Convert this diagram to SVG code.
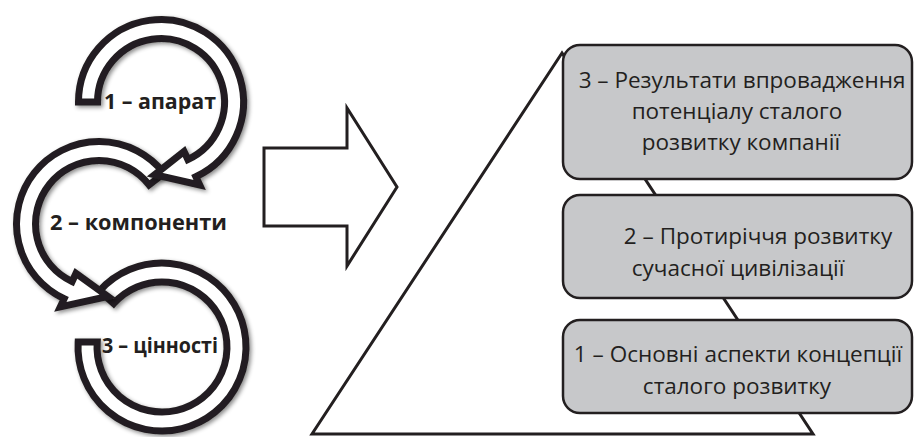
<svg xmlns="http://www.w3.org/2000/svg" width="914" height="437" viewBox="0 0 914 437">
<style>
.ring{fill:#ffffff;stroke:#231f20;stroke-width:7;stroke-linejoin:miter;filter:url(#sh)}
.rt{font-family:"Open Sans","Liberation Sans",sans-serif;font-weight:bold;font-size:22px;fill:#231f20}
.box{fill:#c7c8ca;stroke:#231f20;stroke-width:2.5}
.bt{font-family:"Open Sans","Liberation Sans",sans-serif;font-size:22.5px;fill:#231f20;text-anchor:middle}
.line{fill:none;stroke:#231f20;stroke-width:3;stroke-linejoin:miter}
</style>
<defs>
<filter id="sh" x="-20%" y="-20%" width="140%" height="140%">
<feDropShadow dx="2" dy="2" stdDeviation="2" flood-color="#000000" flood-opacity="0.45"/>
</filter>
</defs>
<rect width="914" height="437" fill="#ffffff"/>
<g id="triangle">
<polygon class="line" points="562,53 312,434 813,434"/>
</g>
<g id="ring3">
<path class="ring" d="M99.58,290.80 A84,84 0 1 1 78.15,342 L97.19,342 A65,65 0 1 0 113.70,303.51 Z"/>
<text class="rt" x="102" y="353" textLength="116" lengthAdjust="spacingAndGlyphs">3 – цінності</text>
</g>
<g id="ring2">
<path class="ring" d="M164.01,173.20 A82.5,82.5 0 1 0 64.14,298.77 L60.33,306.93 L107.90,296.46 L75.97,273.39 L72.16,281.55 A63.5,63.5 0 1 1 149.04,184.90 Z"/>
<text class="rt" x="50" y="230" textLength="177" lengthAdjust="spacingAndGlyphs">2 – компоненти</text>
</g>
<g id="ring1">
<path class="ring" d="M78.5,102 A82.5,82.5 0 1 1 195.86,176.77 L199.67,184.93 L154.63,174.72 L184.03,151.39 L187.84,159.55 A63.5,63.5 0 1 0 97.5,102 Z"/>
<text class="rt" x="104" y="109" textLength="112" lengthAdjust="spacingAndGlyphs">1 – апарат</text>
</g>
<g id="connectors">
<polygon class="line" points="264,148 347,148 347,108 397,187 347,266 347,226 264,226"/>
</g>
<g id="box3">
<rect class="box" x="563" y="45" width="349" height="134" rx="17"/>
<text class="bt" x="742" y="88">3 – Результати впровадження</text>
<text class="bt" x="737" y="119">потенціалу сталого</text>
<text class="bt" x="741" y="150">розвитку компанії</text>
</g>
<g id="box2">
<rect class="box" x="563" y="195" width="349" height="103" rx="17"/>
<text class="bt" x="758" y="244">2 – Протиріччя розвитку</text>
<text class="bt" x="738" y="276">сучасної цивілізації</text>
</g>
<g id="box1">
<rect class="box" x="563" y="320" width="349" height="93" rx="17"/>
<text class="bt" x="738" y="362">1 – Основні аспекти концепції</text>
<text class="bt" x="737" y="394">сталого розвитку</text>
</g>
</svg>
